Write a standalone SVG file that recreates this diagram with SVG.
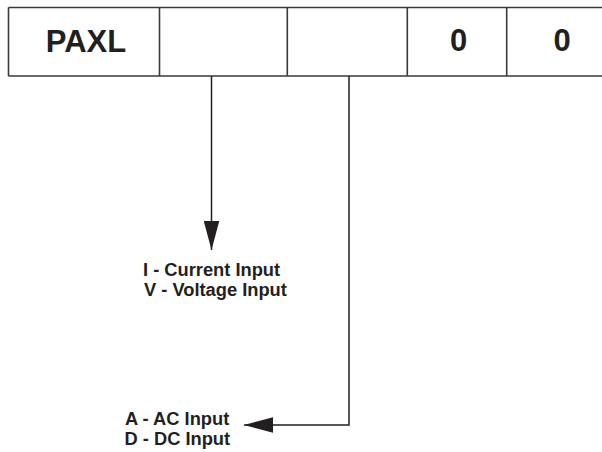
<svg xmlns="http://www.w3.org/2000/svg" width="602" height="452" viewBox="0 0 602 452">
<style>
.cell{stroke:#3a3a3a;stroke-width:1.6;fill:none}
.lbl{font-family:"Liberation Sans",Arial,sans-serif;font-weight:bold;fill:#231f20}
.big{font-size:31px;text-anchor:middle}
.sm{font-size:18.3px}
.conn{stroke:#231f20;stroke-width:1.5;fill:none}
</style>
<defs>
<marker id="ah" markerUnits="userSpaceOnUse" markerWidth="29" markerHeight="16" viewBox="0 0 28 15" refX="28" refY="7.5" orient="auto">
<path d="M0,0 L28,7.5 L0,15 z" fill="#231f20"/>
</marker>
</defs>
<rect width="602" height="452" fill="#fff"/>
<g id="code-box">
<path class="cell" d="M8.5,7.5 H603 M8.5,76 H603 M8.5,7.5 V76 M159.5,7.5 V76 M287.3,7.5 V76 M407.3,7.5 V76 M506.7,7.5 V76"/>
<text class="lbl big" x="86" y="51.5">PAXL</text>
<text class="lbl big" x="458.7" y="51">0</text>
<text class="lbl big" x="562" y="51">0</text>
</g>
<g id="connectors">
<path class="conn" d="M211.5,76 V250" marker-end="url(#ah)"/>
<path class="conn" d="M349,76 V425 H244" marker-end="url(#ah)"/>
</g>
<g id="input-type">
<text class="lbl sm" x="143" y="275.5">I - Current Input</text>
<text class="lbl sm" x="144" y="295.5">V - Voltage Input</text>
</g>
<g id="ac-dc">
<text class="lbl sm" x="125" y="424.5">A - AC Input</text>
<text class="lbl sm" x="124.5" y="445">D - DC Input</text>
</g>
</svg>
